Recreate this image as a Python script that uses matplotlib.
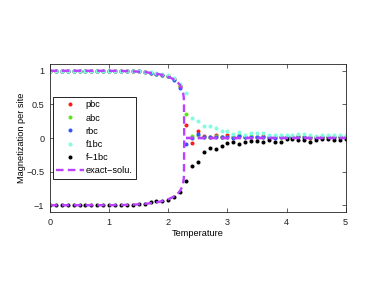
import numpy as np
import matplotlib
matplotlib.use("Agg")
import matplotlib.pyplot as plt

plt.rcParams['font.family'] = ['Liberation Sans', 'DejaVu Sans']

# temperature grid of the simulations
temps = np.round(np.arange(0, 5.05, 0.1), 1)

low_one = [1.0] * 15  # T = 0.0 .. 1.4

pbc = low_one + [0.99, 0.98, 0.97, 0.955, 0.94, 0.925, 0.87, 0.77, 0.20, -0.07,
                 0.10, 0.03, 0.02, 0.05, 0.02, 0.04, 0.01, 0.03, 0.01, 0.02,
                 0.02, 0.03, 0.00, 0.01, 0.02, 0.01, 0.02, 0.03, 0.02, 0.00,
                 0.02, 0.01, 0.02, 0.01, 0.01, 0.02]
abc = low_one + [0.99, 0.98, 0.97, 0.955, 0.94, 0.92, 0.88, 0.78, 0.35, 0.03,
                 0.04, 0.02, 0.01, 0.03, 0.01, 0.02, 0.02, 0.04, 0.02, 0.03,
                 0.01, 0.02, 0.01, 0.02, 0.01, 0.02, 0.01, 0.03, 0.02, 0.01,
                 0.02, 0.01, 0.01, 0.02, 0.01, 0.02]
rbc = low_one + [0.99, 0.98, 0.97, 0.955, 0.94, 0.92, 0.86, 0.75, -0.09, 0.00,
                 0.06, 0.01, 0.02, 0.01, 0.02, 0.01, 0.00, 0.03, 0.01, 0.02,
                 0.01, 0.02, 0.01, 0.00, 0.01, 0.02, 0.01, 0.02, 0.01, 0.01,
                 0.00, 0.01, 0.02, 0.01, 0.01, 0.02]
f1bc = low_one + [0.99, 0.985, 0.975, 0.96, 0.945, 0.93, 0.885, 0.81, 0.665, 0.30,
                  0.25, 0.185, 0.185, 0.15, 0.11, 0.10, 0.06, 0.09, 0.05, 0.07,
                  0.07, 0.08, 0.04, 0.04, 0.04, 0.04, 0.04, 0.06, 0.06, 0.04,
                  0.03, 0.04, 0.04, 0.04, 0.04, 0.05]
fm1bc = [-1.0] * 13 + [-0.995, -0.99, -0.985, -0.975, -0.955, -0.94, -0.93, -0.915,
                       -0.88, -0.80, -0.635, -0.41, -0.35, -0.21, -0.145, -0.165,
                       -0.115, -0.07, -0.055, -0.085, -0.065, -0.05, -0.05, -0.055,
                       -0.035, -0.065, -0.065, -0.02, -0.01, -0.03, -0.03, -0.06,
                       -0.03, -0.015, -0.01, -0.035, -0.035, -0.015]

# exact (Onsager) magnetization
exact_t = [0.0, 1.0, 1.2, 1.4, 1.6, 1.8, 1.9, 2.0, 2.1, 2.15, 2.2, 2.23, 2.25,
           2.26, 2.265, 2.269, 5.0]
exact_m = [1.0, 0.999, 0.997, 0.991, 0.980, 0.957, 0.938, 0.911, 0.868, 0.836,
           0.785, 0.733, 0.671, 0.614, 0.557, 0.0, 0.0]

series = [("pbc", pbc, "#ff1a1a"),
          ("abc", abc, "#5ce61a"),
          ("rbc", rbc, "#3355ff"),
          ("f1bc", f1bc, "#7fffe0"),
          ("f\u22121bc", fm1bc, "#000000")]

fig = plt.figure(figsize=(3.82, 2.87), dpi=100)
ax = fig.add_axes([0.1309, 0.2613, 0.7741, 0.5157])

for name, vals, col in series:
    ax.plot(temps, vals, 'o', ms=2.9, mew=0, color=col, label=name)

purple = "#bb40ff"
ax.plot(exact_t, exact_m, '--', color=purple, lw=1.7, dashes=(3.2, 1.8),
        label="exact\u2212solu.")
ax.plot(exact_t, [-m for m in exact_m], '--', color=purple, lw=1.7, dashes=(3.2, 1.8))

ax.set_xlim(0, 5)
ax.set_ylim(-1.1, 1.1)
ax.set_xticks([0, 1, 2, 3, 4, 5])
ax.set_yticks([-1, -0.5, 0, 0.5, 1])
ax.set_yticklabels(["\u22121", "\u22120.5", "0", "0.5", "1"])
ax.tick_params(direction='in', top=True, right=True, length=3, width=0.5,
               labelsize=6.6, pad=4, colors='#222222')
for s in ax.spines.values():
    s.set_linewidth(0.6)
    s.set_color('#222222')

ax.set_xlabel("Temperature", fontsize=6.6, labelpad=1.5)
ax.set_ylabel("Magnetization per site", fontsize=6.6, labelpad=0.5)

leg = ax.legend(loc='upper left', bbox_to_anchor=(0.009, 0.779), fontsize=6.6,
                numpoints=1, handlelength=3.0, handletextpad=0.2,
                labelspacing=0.45, borderpad=0.4, borderaxespad=0,
                fancybox=False, framealpha=1, edgecolor='black')
leg.get_frame().set_linewidth(0.6)

fig.savefig("out.png", dpi=100)
